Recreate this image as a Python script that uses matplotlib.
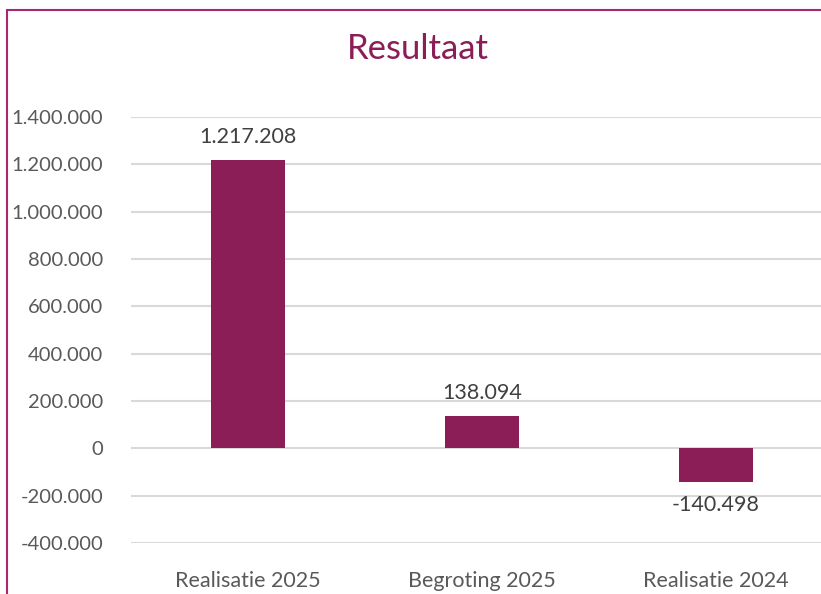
import matplotlib.pyplot as plt
from matplotlib.patches import Rectangle

categories = ['Realisatie 2025', 'Begroting 2025', 'Realisatie 2024']
values = [1217208, 138094, -140498]
yticks = [-400000, -200000, 0, 200000, 400000, 600000, 800000, 1000000, 1200000, 1400000]

bar_color = '#8B1D57'
W, H = 821, 594

def fmt(v):
    s = f'{abs(v):,}'.replace(',', '.')
    return '-' + s if v < 0 else s

plt.rcParams['font.family'] = ['Lato', 'DejaVu Sans']

fig = plt.figure(figsize=(W / 100, H / 100), dpi=100)

# rand van de grafiek (rechts en onder buiten beeld)
fig.patches.append(Rectangle((7 / W, -0.1), 1.2, (H - 10) / H + 0.1,
                             transform=fig.transFigure, fill=False,
                             edgecolor='#A8286E', linewidth=1.5))

ax = fig.add_axes([131 / W, 1 - 543 / H, (833 - 131) / W, (543 - 117) / H])
x = range(len(categories))
ax.bar(x, values, width=0.32, color=bar_color, zorder=3)

for i, v in enumerate(values):
    if v >= 0:
        ax.text(i, v + 55000, fmt(v), ha='center', va='bottom', fontsize=15.5, color='#404040')
    else:
        ax.text(i, v - 55000, fmt(v), ha='center', va='top', fontsize=15.5, color='#404040')

ax.set_xlim(-0.5, 2.5)
ax.set_ylim(-400000, 1400000)
ax.set_yticks(yticks)
ax.set_yticklabels([fmt(t) for t in yticks])
ax.set_xticks(list(x))
ax.set_xticklabels(categories)
ax.tick_params(axis='both', length=0, labelsize=14.5, labelcolor='#595959')
ax.tick_params(axis='y', pad=20)
ax.tick_params(axis='x', pad=20, labelsize=15.5)
ax.grid(axis='y', color='#D9D9D9', linewidth=1.5, zorder=0)
for s in ax.spines.values():
    s.set_visible(False)

fig.text(418 / W, 1 - 49 / H, 'Resultaat', ha='center', va='center',
         fontsize=25, color=bar_color)

fig.savefig('out.png', dpi=100)
